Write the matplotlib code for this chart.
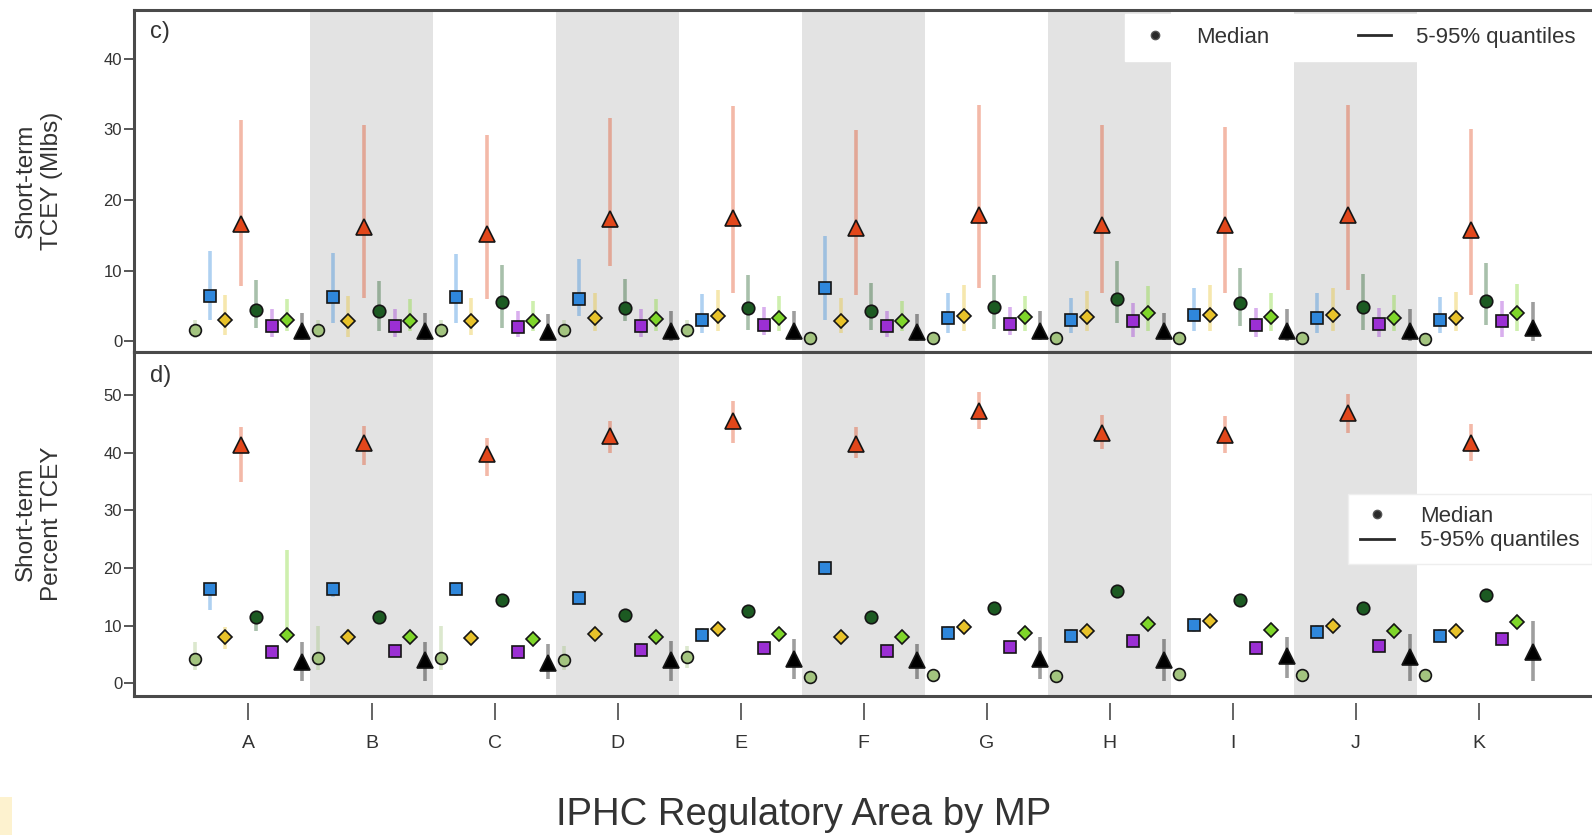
import numpy as np
import matplotlib.pyplot as plt
from matplotlib.lines import Line2D
from matplotlib.patches import Rectangle

plt.rcParams['font.family'] = ['Liberation Sans', 'DejaVu Sans']

# IPHC regulatory areas (one group per MP)
areas = ['A', 'B', 'C', 'D', 'E', 'F', 'G', 'H', 'I', 'J', 'K']

# series (marker order inside each group)
series = ['lightgreen', 'blue', 'gold', 'red', 'darkgreen', 'purple', 'lime', 'black']
colors = ['#a3c47f', '#2f87db', '#e8c22a', '#e2471b', '#1c5a22', '#9b2fd4', '#7fd62a', '#000000']
markers = ['o', 's', 'D', '^', 'o', 's', 'D', '^']
msizes = [8.5, 8.5, 7.5, 11.5, 9, 8.5, 7.5, 11.5]

# c) short-term TCEY (Mlbs): median, 5% and 95% quantiles
tcey_med = {
    'lightgreen': [1.5, 1.5, 1.5, 1.5, 1.5, 0.4, 0.4, 0.4, 0.4, 0.4, 0.3],
    'blue':       [6.45, 6.2, 6.2, 5.9, 3.0, 7.5, 3.3, 3.0, 3.7, 3.3, 3.0],
    'gold':       [3.0, 2.9, 2.8, 3.3, 3.5, 2.9, 3.6, 3.4, 3.7, 3.7, 3.3],
    'red':        [16.6, 16.1, 15.2, 17.3, 17.5, 16.0, 17.9, 16.4, 16.4, 17.8, 15.7],
    'darkgreen':  [4.45, 4.3, 5.6, 4.7, 4.7, 4.3, 4.8, 6.0, 5.4, 4.9, 5.7],
    'purple':     [2.2, 2.1, 2.0, 2.2, 2.3, 2.1, 2.4, 2.8, 2.3, 2.4, 2.9],
    'lime':       [3.0, 2.9, 2.8, 3.1, 3.3, 2.9, 3.4, 4.0, 3.4, 3.3, 4.0],
    'black':      [1.45, 1.45, 1.35, 1.45, 1.45, 1.35, 1.45, 1.45, 1.45, 1.45, 1.8],
}
tcey_lo = {
    'lightgreen': [0.5, 0.5, 0.5, 0.5, 0.5, 0.0, 0.0, 0.0, 0.0, 0.0, 0.0],
    'blue':       [3.0, 2.5, 2.5, 3.5, 1.1, 3.0, 1.1, 1.1, 1.4, 1.1, 1.1],
    'gold':       [0.9, 0.6, 0.9, 1.4, 1.4, 1.1, 1.4, 1.4, 1.4, 1.4, 1.4],
    'red':        [7.8, 6.1, 5.9, 10.6, 6.8, 6.6, 7.5, 6.8, 6.8, 7.3, 6.6],
    'darkgreen':  [1.9, 1.4, 1.9, 2.8, 1.6, 1.5, 1.7, 2.5, 2.1, 1.6, 2.3],
    'purple':     [0.6, 0.6, 0.6, 0.6, 0.9, 0.6, 0.9, 0.6, 0.6, 0.6, 0.6],
    'lime':       [1.4, 1.4, 1.4, 1.4, 1.4, 1.4, 1.4, 1.4, 1.4, 1.4, 1.4],
    'black':      [0.2, 0.2, 0.2, 0.0, 0.2, 0.0, 0.2, 0.2, 0.0, 0.0, 0.0],
}
tcey_hi = {
    'lightgreen': [3.0, 3.0, 3.0, 3.0, 3.0, 1.2, 1.2, 1.2, 1.2, 1.2, 1.2],
    'blue':       [12.7, 12.5, 12.3, 11.7, 6.7, 14.9, 6.8, 6.1, 7.5, 6.8, 6.2],
    'gold':       [6.6, 6.4, 6.1, 6.8, 7.3, 6.1, 8.0, 7.1, 8.0, 7.5, 7.0],
    'red':        [31.4, 30.6, 29.2, 31.6, 33.3, 29.9, 33.4, 30.6, 30.4, 33.5, 30.0],
    'darkgreen':  [8.7, 8.5, 10.8, 8.8, 9.4, 8.3, 9.4, 11.3, 10.4, 9.5, 11.1],
    'purple':     [4.5, 4.5, 4.2, 4.5, 4.9, 4.2, 4.8, 5.4, 4.7, 4.7, 5.7],
    'lime':       [5.9, 5.9, 5.7, 5.9, 6.4, 5.7, 6.4, 7.8, 6.8, 6.6, 8.1],
    'black':      [4.0, 4.0, 3.9, 4.2, 4.2, 3.9, 4.3, 4.0, 4.5, 4.5, 5.6],
}

# d) short-term percent TCEY: median, 5% and 95% quantiles
pct_med = {
    'lightgreen': [4.2, 4.4, 4.4, 4.1, 4.5, 1.1, 1.4, 1.3, 1.6, 1.4, 1.4],
    'blue':       [16.4, 16.4, 16.4, 14.8, 8.4, 20.0, 8.8, 8.3, 10.2, 9.0, 8.3],
    'gold':       [8.0, 8.1, 7.8, 8.6, 9.4, 8.1, 9.8, 9.1, 10.8, 10.0, 9.1],
    'red':        [41.4, 41.7, 39.7, 42.9, 45.5, 41.6, 47.3, 43.5, 43.0, 46.9, 41.7],
    'darkgreen':  [11.5, 11.5, 14.5, 11.8, 12.5, 11.5, 13.0, 16.0, 14.5, 13.0, 15.3],
    'purple':     [5.4, 5.6, 5.4, 5.8, 6.1, 5.6, 6.4, 7.4, 6.2, 6.5, 7.7],
    'lime':       [8.4, 8.1, 7.7, 8.1, 8.6, 8.1, 8.8, 10.3, 9.2, 9.1, 10.6],
    'black':      [3.8, 4.0, 3.6, 4.0, 4.2, 4.0, 4.2, 4.0, 4.7, 4.5, 5.4],
}
pct_lo = {
    'lightgreen': [2.4, 2.4, 2.4, 2.4, 2.6, 0.5, 0.7, 0.7, 0.8, 0.7, 0.7],
    'blue':       [12.8, 15.0, 15.2, 13.8, 7.3, 18.8, 7.8, 7.2, 9.0, 8.0, 7.3],
    'gold':       [5.9, 6.8, 6.6, 7.4, 8.2, 6.9, 8.5, 7.9, 9.6, 8.8, 7.9],
    'red':        [35.0, 37.8, 35.9, 40.0, 41.7, 39.1, 44.1, 40.6, 40.0, 43.5, 38.5],
    'darkgreen':  [9.1, 10.5, 13.5, 10.8, 11.5, 10.5, 12.0, 15.0, 13.5, 12.0, 14.3],
    'purple':     [4.6, 4.8, 4.6, 5.0, 5.2, 4.8, 5.5, 6.4, 5.3, 5.6, 6.7],
    'lime':       [7.4, 7.1, 6.8, 7.1, 7.6, 7.1, 7.8, 9.3, 8.2, 8.1, 9.5],
    'black':      [0.4, 0.4, 0.7, 0.5, 0.7, 0.7, 0.7, 0.5, 0.9, 0.4, 0.4],
}
pct_hi = {
    'lightgreen': [7.1, 10.0, 10.0, 6.5, 6.5, 2.0, 2.4, 2.2, 2.4, 2.2, 2.2],
    'blue':       [17.2, 17.2, 17.2, 15.8, 9.6, 21.0, 10.0, 9.5, 11.4, 10.2, 9.4],
    'gold':       [9.7, 9.4, 9.0, 9.8, 10.6, 9.3, 11.0, 10.3, 12.0, 11.2, 10.3],
    'red':        [44.5, 44.6, 42.6, 45.5, 49.0, 44.4, 50.5, 46.5, 46.3, 50.2, 44.9],
    'darkgreen':  [12.3, 12.4, 15.4, 12.7, 13.4, 12.4, 13.9, 16.9, 15.4, 13.9, 16.2],
    'purple':     [6.3, 6.5, 6.3, 6.7, 7.0, 6.5, 7.3, 8.3, 7.1, 7.4, 8.6],
    'lime':       [23.1, 9.1, 8.8, 9.2, 9.8, 9.2, 10.0, 11.5, 10.4, 10.3, 11.8],
    'black':      [7.1, 7.1, 6.8, 7.4, 7.7, 6.8, 8.0, 7.7, 8.0, 8.5, 10.9],
}

spine_col = '#4a4a4a'
text_col = '#333333'

fig = plt.figure(figsize=(15.92, 8.35), dpi=100)
ax_c = fig.add_axes([0.0842, 0.578, 0.9158, 0.4098])
ax_d = fig.add_axes([0.0842, 0.167, 0.9158, 0.411], sharex=ax_c)

x = np.arange(len(areas))
width = 1.0 / len(series)


def draw_panel(ax, med, lo, hi):
    for i in range(1, len(areas), 2):
        ax.axvspan(i - 0.5, i + 0.5, color='#e3e3e3', lw=0, zorder=0)
    for k, name in enumerate(series):
        xs = x + (k - 3.5) * width
        ax.vlines(xs, lo[name], hi[name], color=colors[k], alpha=0.38, lw=2.6, zorder=2)
        ax.plot(xs, med[name], ls='none', marker=markers[k], ms=msizes[k],
                mfc=colors[k], mec='#151515', mew=1.2, zorder=3)
    for s in ['top', 'left', 'bottom']:
        ax.spines[s].set_color(spine_col)
        ax.spines[s].set_linewidth(2.2)
    ax.spines['right'].set_visible(False)
    ax.tick_params(axis='y', length=7, width=1.3, color=spine_col, labelsize=12,
                   labelcolor=text_col, pad=1.5)
    ax.tick_params(axis='x', length=0, labelbottom=False)


draw_panel(ax_c, tcey_med, tcey_lo, tcey_hi)
draw_panel(ax_d, pct_med, pct_lo, pct_hi)

ax_c.set_xlim(-0.93, 10.92)
ax_c.set_ylim(-1.6, 46.9)
ax_c.set_yticks([0, 10, 20, 30, 40])
ax_d.set_ylim(-2.1, 57.4)
ax_d.set_yticks([0, 10, 20, 30, 40, 50])

ax_c.set_ylabel('Short-term\nTCEY (Mlbs)', fontsize=17.5, color=text_col)
ax_d.set_ylabel('Short-term\nPercent TCEY', fontsize=17.5, color=text_col)
ax_c.yaxis.set_label_coords(-0.049, 0.5)
ax_d.yaxis.set_label_coords(-0.049, 0.5)

ax_c.text(0.011, 0.935, 'c)', transform=ax_c.transAxes, fontsize=17, color=text_col, va='center')
ax_d.text(0.011, 0.932, 'd)', transform=ax_d.transAxes, fontsize=17, color=text_col, va='center')

# detached x axis below the lower panel
sec = ax_d.secondary_xaxis(-0.023)
sec.spines['bottom'].set_visible(False)
sec.set_xticks(x, areas)
sec.tick_params(axis='x', length=12, width=1.2, color=spine_col, labelsize=14,
                labelcolor=text_col, pad=11)

fig.text(0.505, 0.024, 'IPHC Regulatory Area by MP', fontsize=27.5, color=text_col,
         ha='center', va='center')

handles = [Line2D([], [], ls='none', marker='o', ms=6, color='#2a2a2a', mec='#555555'),
           Line2D([], [], color='#2a2a2a', lw=2)]
labels = ['Median', '5-95% quantiles']
leg_c = ax_c.legend(handles, labels, ncol=2, loc='upper right', bbox_to_anchor=(1.0, 1.0),
                    borderaxespad=0.15, fontsize=16, frameon=True, fancybox=False,
                    framealpha=1, edgecolor='white', handlelength=1.5, handletextpad=1.1,
                    columnspacing=4.0, borderpad=0.6)
for t in leg_c.get_texts():
    t.set_color(text_col)
leg_d = ax_d.legend(handles, labels, loc='upper right', bbox_to_anchor=(1.0, 0.588),
                    borderaxespad=0.0, fontsize=16, frameon=True, fancybox=False,
                    framealpha=1, edgecolor='#eeeeee', handlelength=1.5, handletextpad=1.2,
                    labelspacing=0.15, borderpad=0.55)
for t in leg_d.get_texts():
    t.set_color(text_col)

# pale strip at lower left edge of the original image
fig.patches.append(Rectangle((0, 0), 0.0075, 0.045, transform=fig.transFigure,
                             facecolor='#fdf2cf', edgecolor='none'))

plt.savefig('out.png', dpi=100)
